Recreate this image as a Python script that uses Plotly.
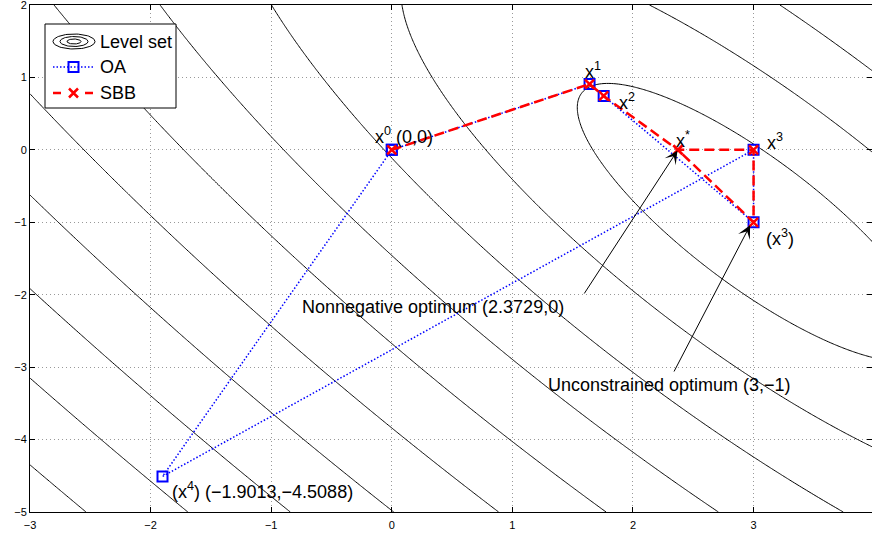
import numpy as np
import plotly.graph_objects as go

# Objective: quadratic form around the unconstrained optimum (3, -1)
x_opt, y_opt = 3.0, -1.0
h_xx, h_xy, h_yy = 1.4742, 0.9285, 0.8568
levels_start, levels_end, levels_step = 1, 14, 1

# Outer approximation (OA) iterates
oa_x = [0, 1.640, 1.757, 3, 3, -1.9013, 0]
oa_y = [0, 0.909, 0.744, -1, 0, -4.5088, 0]
# Spatial branch-and-bound (SBB) iterates
sbb_x = [0, 1.640, 1.757, 2.3729, 3, 3, 2.3729]
sbb_y = [0, 0.909, 0.744, 0, 0, -1, 0]

x_ticks = list(range(-3, 5))
y_ticks = list(range(-5, 3))

gx = np.linspace(-3, 4, 351)
gy = np.linspace(-5, 2, 351)
X, Y = np.meshgrid(gx, gy)
DX, DY = X - x_opt, Y - y_opt
Z = np.sqrt(h_xx * DX**2 + 2 * h_xy * DX * DY + h_yy * DY**2)

fig = go.Figure()
fig.add_trace(go.Contour(x=gx, y=gy, z=Z,
                         contours=dict(start=levels_start, end=levels_end, size=levels_step, coloring="lines"),
                         colorscale=[[0, "black"], [1, "black"]], line=dict(width=1), showscale=False,
                         hoverinfo="skip"))
blue_line = dict(color="#0000ff", width=1.5, dash="1.5px,2px")
red_line = dict(color="#ff0000", width=2.5, dash="10px,5px")
blue_marker = dict(symbol="square-open", size=10, color="#0000ff", line=dict(width=2))
red_marker = dict(symbol="x-thin-open", size=9, color="#ff0000", line=dict(width=2.5, color="#ff0000"))
fig.add_trace(go.Scatter(x=oa_x, y=oa_y, mode="lines+markers", line=blue_line, marker=blue_marker))
fig.add_trace(go.Scatter(x=sbb_x, y=sbb_y, mode="lines+markers", line=red_line, marker=red_marker))

# Legend box on a pixel-coordinate overlay axis
fig.add_trace(go.Scatter(x=[45, 176, 176, 45, 45], y=[24, 24, 108, 108, 24], xaxis="x2", yaxis="y2",
                         mode="lines", fill="toself", fillcolor="white", line=dict(color="black", width=1)))
t = np.linspace(0, 2 * np.pi, 80)
for rx, ry in [(21, 7.5), (14, 5), (7, 2.5)]:
    fig.add_trace(go.Scatter(x=74 + rx * np.cos(t), y=41.5 + ry * np.sin(t), xaxis="x2", yaxis="y2",
                             mode="lines", line=dict(color="black", width=1)))
fig.add_trace(go.Scatter(x=[53, 73.5, 93], y=[67, 67, 67], xaxis="x2", yaxis="y2", mode="lines",
                         line=blue_line))
fig.add_trace(go.Scatter(x=[73.5], y=[67], xaxis="x2", yaxis="y2", mode="markers", marker=blue_marker))
fig.add_trace(go.Scatter(x=[53, 93], y=[93, 93], xaxis="x2", yaxis="y2", mode="lines",
                         line=dict(color="#ff0000", width=2.5, dash="8px,24px")))
fig.add_trace(go.Scatter(x=[73.5], y=[93], xaxis="x2", yaxis="y2", mode="markers", marker=red_marker))

font = dict(family="Liberation Sans, Arial, sans-serif", size=18, color="black")
ann = []
for txt, yy in [("Level set", 42), ("OA", 67), ("SBB", 93)]:
    ann.append(dict(x=98, y=yy, xref="x2", yref="y2", text=txt, showarrow=False, xanchor="left",
                    yanchor="middle", font=font))


def lab(txt, x, y, xs, ys):
    ann.append(dict(x=x, y=y, text=txt, showarrow=False, xanchor="left", yanchor="middle",
                    xshift=xs, yshift=ys, font=font))


lab("x<sup>0</sup> (0,0)", oa_x[0], oa_y[0], -19, 14)
lab("x<sup>1</sup>", oa_x[1], oa_y[1], -7, 14)
lab("x<sup>2</sup>", oa_x[2], oa_y[2], 13, -6)
lab("x<sup>*</sup>", sbb_x[3], sbb_y[3], -4, 10)
lab("x<sup>3</sup>", oa_x[4], oa_y[4], 11, 8)
lab("(x<sup>3</sup>)", oa_x[3], oa_y[3], 10, -15)
lab("(x<sup>4</sup>) (\u22121.9013,\u22124.5088)", oa_x[5], oa_y[5], 7, -14)
lab("Nonnegative optimum (2.3729,0)", -0.76, -2.17, 0, 0)
lab("Unconstrained optimum (3,\u22121)", 1.28, -3.247, 0, 0)
ann.append(dict(x=sbb_x[3], y=sbb_y[3], ax=1.588, ay=-2.004, axref="x", ayref="y", text="",
                showarrow=True, arrowhead=3, arrowsize=2.2, arrowwidth=1, arrowcolor="black", standoff=1))
ann.append(dict(x=2.975, y=-1.03, ax=2.334, ay=-3.081, axref="x", ayref="y", text="",
                showarrow=True, arrowhead=3, arrowsize=2.2, arrowwidth=1, arrowcolor="black", standoff=1))

tickfont = dict(family="Liberation Sans, Arial, sans-serif", size=11, color="black")
axis_common = dict(showgrid=True, gridcolor="#999999", griddash="1px,3px", zeroline=False, showline=True,
                   linecolor="black", linewidth=1, mirror="ticks", ticks="inside", ticklen=5,
                   tickcolor="black", tickfont=tickfont, ticklabeloverflow="allow")
fig.update_layout(
    width=872, height=536, margin=dict(l=30, r=0, t=5, b=24),
    paper_bgcolor="white", plot_bgcolor="white", showlegend=False,
    annotations=ann,
    xaxis=dict(range=[-3, 3.982], tickvals=x_ticks, ticklabelstandoff=3, **axis_common),
    yaxis=dict(range=[-5, 2], tickvals=y_ticks, **axis_common),
    xaxis2=dict(overlaying="x", range=[30, 872], visible=False),
    yaxis2=dict(overlaying="y", range=[512, 5], visible=False),
)
fig.write_html("out.html")
